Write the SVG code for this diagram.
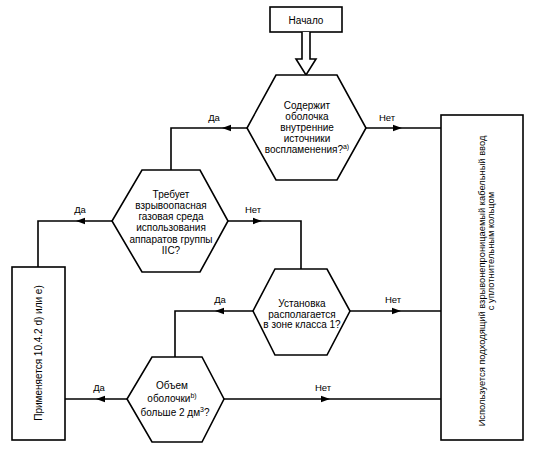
<svg xmlns="http://www.w3.org/2000/svg" width="544" height="461" viewBox="0 0 544 461">
<style>
.sh{fill:#fff;stroke:#000;stroke-width:1.6}
.ln{fill:none;stroke:#000;stroke-width:1.6}
.t{font-family:"Liberation Sans",Arial,sans-serif;font-size:10px;fill:#000;text-anchor:middle}
.lb{font-family:"Liberation Sans",Arial,sans-serif;font-size:9.5px;fill:#000;text-anchor:middle}
.r{font-family:"Liberation Sans",Arial,sans-serif;font-size:9.3px;fill:#000;text-anchor:middle}
</style>
<defs>
<path id="ah" d="M0,0 L-9,-3.2 L-9,3.2 Z" fill="#000"/>
</defs>
<rect width="544" height="461" fill="#fff"/>

<g id="start">
<rect class="sh" x="270" y="7" width="72" height="25"/>
<text class="t" x="306" y="23.5">Начало</text>
</g>

<g id="connectors">
<path class="sh" d="M302,32 L302,59 L296,59 L306,75 L316,59 L310,59 L310,32"/>
<polyline class="ln" points="366,128 441,128"/>
<use href="#ah" transform="translate(402,128)"/>
<polyline class="ln" points="247,128 171,128 171,170"/>
<use href="#ah" transform="translate(222,128) rotate(180)"/>
<polyline class="ln" points="112,221 38,221 38,267"/>
<use href="#ah" transform="translate(76,221) rotate(180)"/>
<polyline class="ln" points="228,221 301,221 301,269"/>
<use href="#ah" transform="translate(262,221)"/>
<polyline class="ln" points="253,311 175,311 175,357"/>
<use href="#ah" transform="translate(215,311) rotate(180)"/>
<polyline class="ln" points="350,311 441,311"/>
<use href="#ah" transform="translate(401,311)"/>
<polyline class="ln" points="127,399 65,399"/>
<use href="#ah" transform="translate(96,399) rotate(180)"/>
<polyline class="ln" points="224,399 441,399"/>
<use href="#ah" transform="translate(330,399)"/>
<text class="lb" x="387" y="121">Нет</text>
<text class="lb" x="214" y="121">Да</text>
<text class="lb" x="80" y="213">Да</text>
<text class="lb" x="253" y="213">Нет</text>
<text class="lb" x="220" y="303">Да</text>
<text class="lb" x="393" y="303">Нет</text>
<text class="lb" x="99" y="391">Да</text>
<text class="lb" x="323" y="391">Нет</text>
</g>

<g id="q1">
<polygon class="sh" points="276,75 337,75 366,128 337,180 276,180 247,128"/>
<text class="t" x="307" y="109">Содержит</text>
<text class="t" x="307" y="120">оболочка</text>
<text class="t" x="307" y="131">внутренние</text>
<text class="t" x="307" y="142">источники</text>
<text class="t" x="307" y="153">воспламенения?<tspan font-size="7" dy="-4">a)</tspan></text>
</g>

<g id="q2">
<polygon class="sh" points="142,170 200,170 228,221 200,272 142,272 112,221"/>
<text class="t" x="171" y="197.5">Требует</text>
<text class="t" x="171" y="208.5">взрывоопасная</text>
<text class="t" x="171" y="220">газовая среда</text>
<text class="t" x="171" y="231">использования</text>
<text class="t" x="171" y="242.5">аппаратов группы</text>
<text class="t" x="171" y="253.5">IIC?</text>
</g>

<g id="q3">
<polygon class="sh" points="275,269 327,269 350,311 327,355 275,355 253,311"/>
<text class="t" x="302" y="306.5">Установка</text>
<text class="t" x="302" y="317.5">располагается</text>
<text class="t" x="302" y="328">в зоне класса 1?</text>
</g>

<g id="q4">
<polygon class="sh" points="152,357 202,357 224,399 202,442 152,442 127,399"/>
<text class="t" x="172" y="388.5">Объем</text>
<text class="t" x="172" y="401.5">оболочки<tspan font-size="7" dy="-4">b)</tspan></text>
<text class="t" x="175" y="415.5">больше 2 дм<tspan font-size="7" dy="-4">3</tspan><tspan dy="4">?</tspan></text>
</g>

<g id="apply">
<rect class="sh" x="12" y="267" width="53" height="173"/>
<text class="t" transform="translate(41.5,353) rotate(-90)">Применяется 10.4.2 d) или e)</text>
</g>

<g id="use">
<rect class="sh" x="441" y="115" width="82" height="325"/>
<text class="r" transform="translate(485,281) rotate(-90)">Используется подходящий взрывонепроницаемый кабельный ввод</text>
<text class="r" transform="translate(494,251) rotate(-90)">с уплотнительным кольцом</text>
</g>
</svg>
